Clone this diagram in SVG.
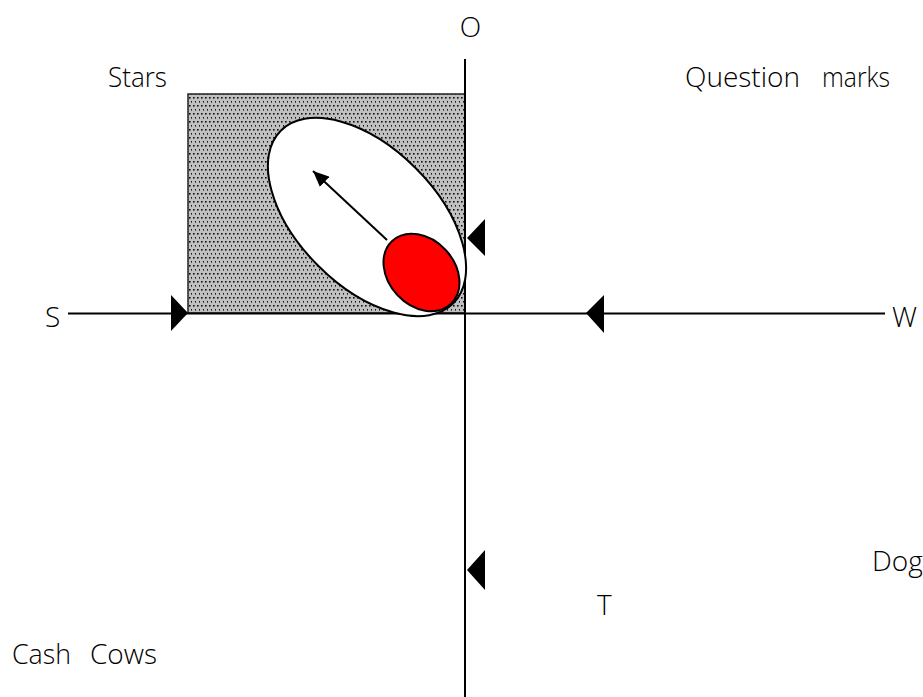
<svg xmlns="http://www.w3.org/2000/svg" width="923" height="697" viewBox="0 0 923 697">
  <style>
    .lbl { font-family: "Open Sans", "Noto Sans", "DejaVu Sans", sans-serif; font-size: 28px; font-weight: 300; fill: #000; }
    .axis { stroke: #000; stroke-width: 2; fill: none; }
    .tri { fill: #000; stroke: none; }
  </style>
  <defs>
    <pattern id="dots" x="0" y="0" width="4" height="8" patternUnits="userSpaceOnUse">
      <rect width="4" height="8" fill="#c0c0c0"/>
      <rect x="1" y="1" width="1.6" height="1.6" fill="#111"/>
      <rect x="3" y="5" width="1.6" height="1.6" fill="#111"/>
    </pattern>
    <marker id="ahBig" viewBox="0 0 16 14" refX="16" refY="7" markerWidth="16" markerHeight="14" markerUnits="userSpaceOnUse" orient="auto">
      <path d="M0,0 L16,7 L0,14 z" fill="#000"/>
    </marker>
  </defs>

  <g id="stars-zone">
    <rect x="188" y="94" width="277" height="219" fill="url(#dots)" stroke="#222" stroke-width="1.5"/>
  </g>

  <g id="connectors">
    <line class="axis" x1="68" y1="313.5" x2="885" y2="313.5"/>
    <line class="axis" x1="465" y1="59" x2="465" y2="697"/>
  </g>

  <g id="big-ellipse">
    <ellipse cx="367" cy="217" rx="122" ry="69" transform="rotate(45 367 217)" fill="#fff" stroke="#000" stroke-width="2"/>
  </g>

  <g id="red-ellipse">
    <ellipse cx="421.5" cy="272.5" rx="43" ry="33" transform="rotate(47 421.5 272.5)" fill="#ff0000" stroke="#000" stroke-width="2"/>
  </g>

  <g id="move-arrow">
    <line x1="387" y1="240" x2="313" y2="171" stroke="#000" stroke-width="2" marker-end="url(#ahBig)"/>
  </g>

  <g id="markers">
    <polygon class="tri" points="171,295 188,313 171,331"/>
    <polygon class="tri" points="604,295 586,313 604,333"/>
    <polygon class="tri" points="485,219 467,238 485,256"/>
    <polygon class="tri" points="485,550 467,570 485,590"/>
  </g>

  <g id="labels">
    <text class="lbl" x="470.5" y="37" text-anchor="middle">O</text>
    <text class="lbl" x="108" y="87" textLength="59" lengthAdjust="spacingAndGlyphs">Stars</text>
    <text class="lbl" x="685" y="87" textLength="115" lengthAdjust="spacingAndGlyphs">Question</text>
    <text class="lbl" x="822" y="87" textLength="68" lengthAdjust="spacingAndGlyphs">marks</text>
    <text class="lbl" x="45" y="326.5">S</text>
    <text class="lbl" x="892" y="326.5">W</text>
    <text class="lbl" x="872" y="571">Dog</text>
    <text class="lbl" x="597" y="615">T</text>
    <text class="lbl" x="12" y="664" textLength="59" lengthAdjust="spacingAndGlyphs">Cash</text>
    <text class="lbl" x="90" y="664" textLength="67" lengthAdjust="spacingAndGlyphs">Cows</text>
  </g>
</svg>
